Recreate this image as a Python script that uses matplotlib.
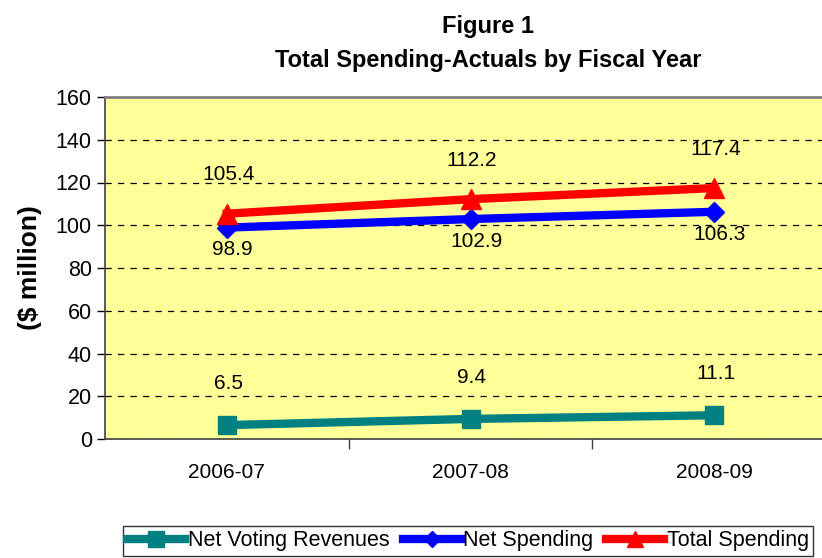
import matplotlib
matplotlib.use("Agg")
import matplotlib.pyplot as plt
from matplotlib.lines import Line2D

plt.rcParams['font.family'] = ['Liberation Sans', 'DejaVu Sans']

years = ["2006-07", "2007-08", "2008-09"]
net_voting = [6.5, 9.4, 11.1]
net_spending = [98.9, 102.9, 106.3]
total_spending = [105.4, 112.2, 117.4]

W, H = 822, 558
fig = plt.figure(figsize=(W / 100, H / 100), dpi=100)

# axes: left 105px, top 97px, bottom 439px, right extends beyond the figure
left_px, top_px, bot_px, right_px = 105, 97, 439, 836
ax = fig.add_axes([left_px / W, 1 - bot_px / H, (right_px - left_px) / W, (bot_px - top_px) / H])
ax.set_facecolor("#FFFF99")

x = list(range(len(years)))
ax.set_xlim(-0.5, len(years) - 0.5)
ax.set_ylim(0, 160)

ax.plot(x, net_voting, color="#008080", lw=6, marker="s", ms=13, zorder=3)
ax.plot(x, net_spending, color="#0000FF", lw=6, marker="D", ms=10, zorder=3)
ax.plot(x, total_spending, color="#FF0000", lw=6, marker="^", ms=14, zorder=4)

for xi, v in zip(x, total_spending):
    ax.annotate(f"{v}", (xi, v), xytext=(1, 28), textcoords="offset points",
                ha="center", va="center", fontsize=15)
for xi, v in zip(x, net_spending):
    ax.annotate(f"{v}", (xi, v), xytext=(4, -16), textcoords="offset points",
                ha="center", va="center", fontsize=15)
for xi, v in zip(x, net_voting):
    ax.annotate(f"{v}", (xi, v), xytext=(1, 30), textcoords="offset points",
                ha="center", va="center", fontsize=15)

ax.set_yticks(range(0, 161, 20))
ax.tick_params(axis="y", labelsize=15.5, length=6, direction="out", width=1)
ax.yaxis.grid(True, linestyle=(0, (5, 5)), color="black", lw=0.9)
ax.set_axisbelow(True)

ax.set_xticks(x)
ax.set_xticklabels(years, fontsize=15)
ax.tick_params(axis="x", length=0, pad=17)
ax.set_xticks([i + 0.5 for i in x], minor=True)
ax.tick_params(axis="x", which="minor", length=7, direction="out", width=1, color="#404040")

for s in ["top", "right"]:
    ax.spines[s].set_color("#808080")
    ax.spines[s].set_linewidth(2)
ax.spines["left"].set_color("#404040")
ax.spines["bottom"].set_color("#404040")
ax.spines["left"].set_linewidth(1.2)
ax.spines["bottom"].set_linewidth(1.2)

ax.set_ylabel("($ million)", fontsize=19, fontweight="bold", labelpad=10)

fig.text(488 / W, 1 - 26 / H, "Figure 1", ha="center", va="center", fontsize=17, fontweight="bold")
fig.text(488 / W, 1 - 61 / H, "Total Spending-Actuals by Fiscal Year", ha="center", va="center",
         fontsize=17, fontweight="bold")

handles = [
    Line2D([], [], color="#008080", lw=6, marker="s", ms=11),
    Line2D([], [], color="#0000FF", lw=6, marker="D", ms=8),
    Line2D([], [], color="#FF0000", lw=6, marker="^", ms=11),
]
labels = ["Net Voting Revenues", "Net Spending", "Total Spending"]
leg = fig.legend(handles, labels, loc="upper left", bbox_to_anchor=(123 / W, 1 - 526 / H),
                 ncol=3, fontsize=15.5, frameon=True, fancybox=False, edgecolor="black",
                 handlelength=2.7, handletextpad=0.12, columnspacing=0.6, borderpad=0.2,
                 borderaxespad=0)
leg.get_frame().set_linewidth(1)

fig.savefig("out.png", dpi=100)
